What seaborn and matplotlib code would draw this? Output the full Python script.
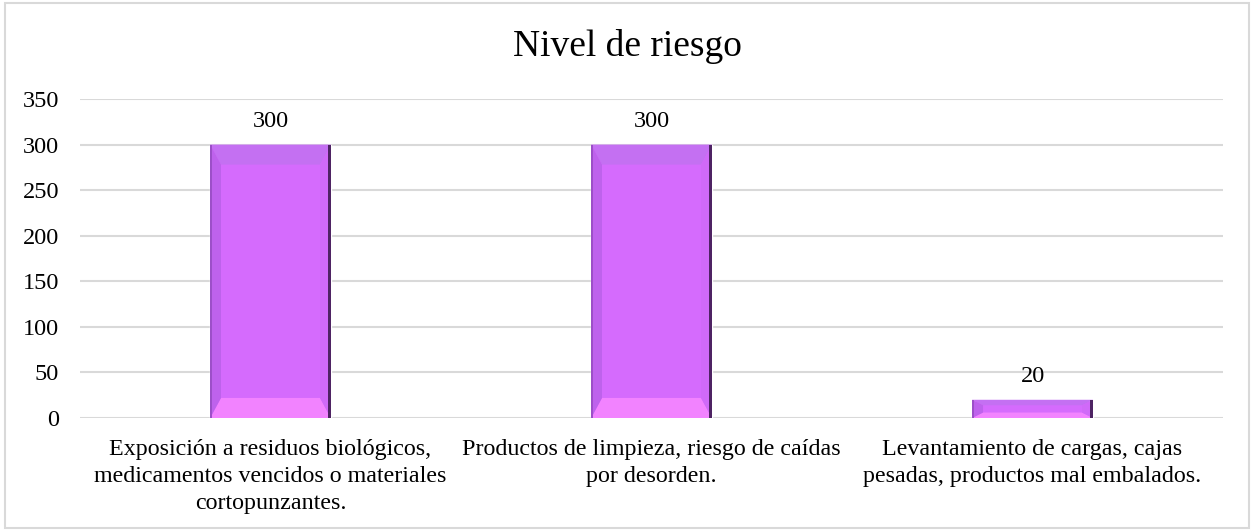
import pandas as pd
import seaborn as sns
import matplotlib.pyplot as plt
from matplotlib.patches import Polygon, Rectangle

# datos
categorias = [
    'Exposición a residuos biológicos,\nmedicamentos vencidos o materiales\ncortopunzantes.',
    'Productos de limpieza, riesgo de caídas\npor desorden.',
    'Levantamiento de cargas, cajas\npesadas, productos mal embalados.',
]
nivel_riesgo = [300, 300, 20]
titulo = 'Nivel de riesgo'
y_ticks = [0, 50, 100, 150, 200, 250, 300, 350]

df = pd.DataFrame({'categoria': categorias, 'nivel': nivel_riesgo})

sns.set_style('white')
plt.rcParams['font.family'] = ['Liberation Serif', 'DejaVu Serif']
plt.rcParams['text.color'] = 'black'
plt.rcParams['xtick.color'] = 'black'
plt.rcParams['ytick.color'] = 'black'

fig = plt.figure(figsize=(12.54, 5.31), dpi=100)
ax = fig.add_axes([0.0638, 0.2128, 0.9115, 0.6008])

color_barra = '#D56BFD'
sns.barplot(data=df, x='categoria', y='nivel', color=color_barra, width=0.317,
            saturation=1, ax=ax, zorder=3)

# efecto biselado sobre cada barra
for p in ax.patches:
    x0, y0 = p.get_x(), p.get_y()
    w, h = p.get_width(), p.get_height()
    dx = w * 0.09
    dy = min(h * 0.3, 22)
    x1, y1 = x0 + w, y0 + h
    ax.add_patch(Polygon([(x0, y1), (x1, y1), (x1 - dx, y1 - dy), (x0 + dx, y1 - dy)],
                         closed=True, fc='#C470F2', ec='none', zorder=4))
    ax.add_patch(Polygon([(x0, y0), (x1, y0), (x1 - dx, y0 + dy), (x0 + dx, y0 + dy)],
                         closed=True, fc='#F283FF', ec='none', zorder=4))
    ax.add_patch(Polygon([(x0, y0), (x0, y1), (x0 + dx, y1 - dy), (x0 + dx, y0 + dy)],
                         closed=True, fc='#BE62EC', ec='none', zorder=4))
    ax.add_patch(Polygon([(x1, y0), (x1, y1), (x1 - dx, y1 - dy), (x1 - dx, y0 + dy)],
                         closed=True, fc='#D06AF8', ec='none', zorder=4))
    ax.add_patch(Rectangle((x1 - w * 0.02, y0), w * 0.02, h, fc='#4E2363', ec='none', zorder=5))
    ax.add_patch(Rectangle((x0, y0), w * 0.012, h, fc='#9C4FC8', ec='none', zorder=5))

# etiquetas de datos
for i, v in enumerate(nivel_riesgo):
    ax.annotate(f'{v}', (i, v), xytext=(0, 9), textcoords='offset points',
                ha='center', va='bottom', fontsize=17.5)

ax.set_ylim(0, 350)
ax.set_xlim(-0.5, 2.5)
ax.set_yticks(y_ticks)
ax.yaxis.grid(True, color='#D9D9D9', linewidth=1.5, zorder=0)
ax.xaxis.grid(False)
ax.set_xlabel('')
ax.set_ylabel('')
for s in ax.spines.values():
    s.set_visible(False)
ax.tick_params(axis='y', length=0, pad=15, labelsize=17.5)
ax.tick_params(axis='x', length=0, pad=15, labelsize=17.3)
for lbl in ax.get_xticklabels():
    lbl.set_linespacing(1.38)

fig.text(0.5, 0.912, titulo, ha='center', va='center', fontsize=27)

# marco exterior
fig.patches.append(Rectangle((0.004, 0.006), 0.992, 0.988, transform=fig.transFigure,
                             fill=False, ec='#D9D9D9', lw=1.5))

plt.savefig('out.png', dpi=100)
